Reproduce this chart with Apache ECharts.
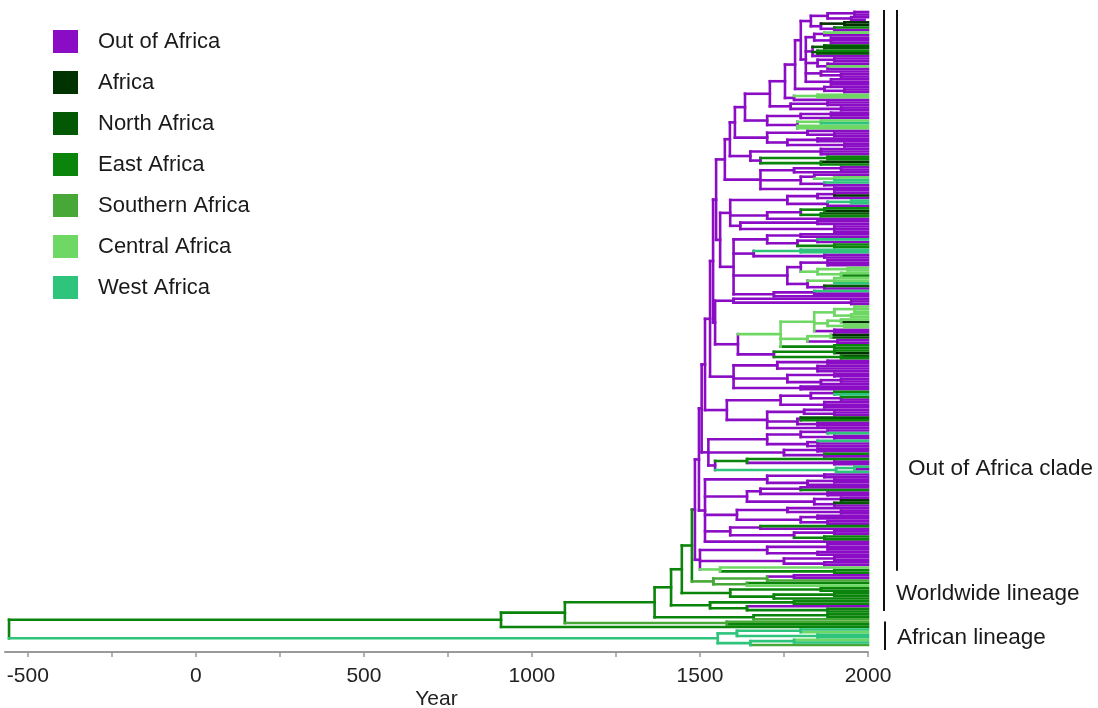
<!DOCTYPE html>
<html>
<head>
<meta charset="utf-8">
<script src="https://cdn.jsdelivr.net/npm/echarts@6/dist/echarts.min.js"></script>
<style>
html, body { margin: 0; padding: 0; background: #fff; }
#main { width: 1098px; height: 708px; }
</style>
</head>
<body>
<div id="main"></div>
<script>
// regions (legend order) and their colours
const regionNames = ['Out of Africa', 'Africa', 'North Africa', 'East Africa', 'Southern Africa', 'Central Africa', 'West Africa'];
const regionCodes = ['O', 'A', 'N', 'E', 'S', 'C', 'W'];
const regionColors = ['#8a0cc4', '#013300', '#035903', '#0a840a', '#47a838', '#6fd764', '#2ec47c'];

// x axis
const tickYears = [-500, -250, 0, 250, 500, 750, 1000, 1250, 1500, 1750, 2000];
const labelYears = [-500, 0, 500, 1000, 1500, 2000];
const rootYear = -556;

// tree: "(children)RegionYear", a tip is "Region[Year]" (year 2000 if left out)
const ooaTop = '((((O,O)O1960,(O,O1990)O1950)O1880,((A,A)A1930,(E,O)O1900)O1860)O1830,(((C,O)O1870,(O,O,O)O1890)O1840,((N,N)N1870,(E,N)N1850,O)O1835,((O,O)O1900,(O,C,O)O1880)O1850,(O,(O,O)O1920)O1860,(O,O,O)O1890)O1815)O1800';

// out of Africa backbone, top to bottom: node year + clade hanging under it
const ooaSpineYears = [1783, 1753, 1708, 1634, 1604, 1589, 1574, 1548, 1539, 1530, 1515, 1505, 1497, 1485];
const ooaSpineClades = [
    '(O,(O,O)O1930)O1870',
    '((C,C)C1850,O)O1780',
    '((O,O)O1880,(O,O)O1920)O1770',
    '(((O,O)O1890,O)O1800,((C,W)C1860,C,C)O1790)O1700',
    '((O,(O,O)O1900)O1820,((O,O)O1850,(O,O)O1930)O1760)O1700',
    '((O,O,O)O1860,((E,E)E1880,(A,E)E1860)O1680)O1650',
    '(((O,O)O1920,O)O1780,((O,(C,W)C1900)O1840,(W,O)O1870)O1800,(O,O)O1900)O1680',
    '(((((O,A)O1900,O)O1850,((W,W)W1950,O)O1880)O1760,(((E,A)E1870,(N,E)E1860)O1800,O)O1700,((O,O)O1850,(O,O,O)O1900)O1620)O1590,(((O,O)O1800,((W,O)O1850,(E,E)E1900)O1790)O1700,((W,W)W1800,(O,O)O1870)O1660,(((O,O,O)O1880,((C,C)C1940,(C,E)C1920)C1850)O1800,((C,C,W)C1900,(N,O)O1870)O1820)O1760,((W,O)O1840,O)O1720)O1600)O1560',
    '((O,(O,O)O1950)O1600,(((((C,C,C)C1960,(C,C)C1950)C1900,((C,A)C1920,(C,C)C1930)C1880,(O,O)O1900)C1840,((A,N)C1890,(O,O)O1910)C1820,(E,E)E1900)C1740,((E,A)E1900,(N,E)E1920)O1720)O1613)O1545',
    '(((O,O)O1880,(O,O,O)O1850)O1730,((O,O)O1900,((O,O)O1920,O)O1860)O1760,(O,O)O1800)O1600',
    '((((E,W)O1900,(E,O)O1920)O1830,(O,O,O)O1870)O1740,((O,(O,O)O1900)O1810,((N,E)O1800,(O,O)O1850)O1790,O)O1700)O1580',
    '((((O,W)O1880,(O,O)O1900)O1800,((W,O)O1850,O)O1820)O1700,((O,O)O1850,(E,O)O1870)O1750,((E,(O,O)O1900)E1640,((W,O)W1960,W)W1905)O1545)O1525',
    '(((O,O)O1870,((O,O)O1900,O)O1820)O1700,(((O,E)O1800,(O,O)O1880)O1680,((O,A)O1920,(N,O)O1900)O1840)O1640,((O,(O,O)O1920)O1760,((O,O)O1850,(O,O)O1880)O1800)O1610,((E,O)O1680,((O,O)O1900,(E,E)E1870)O1780)O1590,O)O1515',
    '(((O,O,O)O1880,(O,O)O1850)O1700,((O,O)O1900,(O,O)O1870)O1750,(C,(E,E)E1900)C1560)O1500'
];

// worldwide lineage backbone below the out of Africa clade
const wwSpineYears = [1476, 1446, 1414, 1365, 1098, 908];
const wwSpineClades = [
    '(((O,O)O1780,S)S1700,(E,C)S1640)S1540',
    '((E,E)E1860,((E,E)E1900,E)E1720)E1590',
    '((E,E)E1780,(O,(E,E)E1880)E1640)E1530',
    '((E,E)E1880,S)E1660',
    '(S,E)S1580',
    'E'
];

const africanLineage = '(((W,C)W1800,(W,W)W1850)W1610,((C,W)W1780,S)W1650)W1553';

function ladder(start, years, clades, code) {
    let s = start;
    years.forEach((y, i) => {
        s = '(' + s + ',' + clades[i] + ')' + code + y;
    });
    return s;
}

function parseTree(str) {
    let i = 0;
    function node() {
        const n = { children: [] };
        if (str[i] === '(') {
            i++;
            n.children.push(node());
            while (str[i] === ',') {
                i++;
                n.children.push(node());
            }
            i++; // ')'
        }
        n.region = str[i++];
        const m = /^-?\d+/.exec(str.slice(i));
        if (m) {
            n.year = +m[0];
            i += m[0].length;
        } else {
            n.year = 2000;
        }
        return n;
    }
    return node();
}

function countLeaves(n) {
    if (!n.children.length) return 1;
    return n.children.reduce((s, c) => s + countLeaves(c), 0);
}

const ooaStr = ladder(ooaTop, ooaSpineYears, ooaSpineClades, 'O');
const wwStr = ladder(ooaStr, wwSpineYears, wwSpineClades, 'E');
const tree = parseTree('(' + wwStr + ',' + africanLineage + ')E' + rootYear);

const ooaLeaves = countLeaves(parseTree(ooaStr));
const wwLeaves = countLeaves(parseTree(wwStr));

// leaf order gives y, inner nodes sit halfway between first and last child
let leafCount = 0;
function place(n) {
    if (!n.children.length) {
        n.y = leafCount++;
        return;
    }
    n.children.forEach(place);
    n.y = (n.children[0].y + n.children[n.children.length - 1].y) / 2;
}
place(tree);

const segs = {};
regionCodes.forEach(c => { segs[c] = []; });
function collect(n, parent) {
    if (parent) segs[n.region].push([parent.year, n.y, n.year, n.y]);
    if (n.children.length) {
        segs[n.region].push([n.year, n.children[0].y, n.year, n.children[n.children.length - 1].y]);
        n.children.forEach(c => collect(c, n));
    }
}
collect(tree, null);

const chart = echarts.init(document.getElementById('main'));

const series = regionCodes.map((c, k) => ({
    type: 'custom',
    name: regionNames[k],
    coordinateSystem: 'cartesian2d',
    silent: true,
    itemStyle: { color: regionColors[k] },
    encode: { x: [0, 2], y: [1, 3] },
    data: segs[c],
    renderItem: (params, api) => {
        const a = api.coord([api.value(0), api.value(1)]);
        const b = api.coord([api.value(2), api.value(3)]);
        return {
            type: 'line',
            shape: { x1: a[0], y1: a[1], x2: b[0], y2: b[1] },
            style: { stroke: api.visual('color'), lineWidth: 2.6, lineCap: 'square' }
        };
    }
}));

chart.setOption({
    animation: false,
    backgroundColor: '#fff',
    textStyle: { fontFamily: 'Liberation Sans, Arial, sans-serif' },
    grid: { left: 5, right: 230, top: 12, bottom: 56, outerBoundsMode: 'none', containLabel: false },
    legend: {
        orient: 'vertical',
        left: 53,
        top: 30,
        padding: 0,
        itemWidth: 25,
        itemHeight: 23,
        itemGap: 18,
        icon: 'rect',
        selectedMode: false,
        textStyle: { fontSize: 22, color: '#1a1a1a', padding: [0, 0, 0, 15] },
        data: regionNames
    },
    xAxis: {
        type: 'value',
        position: 'bottom',
        min: -568,
        max: 2000,
        name: 'Year',
        nameLocation: 'middle',
        nameGap: 37,
        nameMoveOverlap: false,
        nameTextStyle: { fontSize: 21, color: '#222' },
        splitLine: { show: false },
        axisLine: { show: true, onZero: false, lineStyle: { color: '#999', width: 2 } },
        axisTick: { show: true, customValues: tickYears, length: 5, lineStyle: { color: '#999', width: 1.5 } },
        axisLabel: { customValues: labelYears, fontSize: 21, color: '#222', margin: 14, formatter: v => String(v) }
    },
    yAxis: {
        type: 'value',
        show: false,
        inverse: true,
        min: 0,
        max: leafCount - 1 + 2.7
    },
    series: series
});

// clade brackets on the right
function py(i) {
    return chart.convertToPixel({ gridIndex: 0 }, [2000, i])[1];
}
const xEnd = chart.convertToPixel({ gridIndex: 0 }, [2000, 0])[0];
const barStyle = { stroke: '#111', lineWidth: 2 };
const labelFont = { fontSize: 22.5, fontFamily: 'Liberation Sans, Arial, sans-serif', fill: '#1a1a1a', verticalAlign: 'middle' };

chart.setOption({
    graphic: [
        { type: 'line', shape: { x1: xEnd + 29, y1: py(0) - 2, x2: xEnd + 29, y2: py(ooaLeaves - 1) - 2 }, style: barStyle },
        { type: 'line', shape: { x1: xEnd + 16, y1: py(0) - 2, x2: xEnd + 16, y2: py(wwLeaves - 1) - 16 }, style: barStyle },
        { type: 'line', shape: { x1: xEnd + 17, y1: py(wwLeaves) - 8, x2: xEnd + 17, y2: py(leafCount - 1) + 5 }, style: barStyle },
        { type: 'text', style: Object.assign({ text: 'Out of Africa clade', x: xEnd + 40, y: py(ooaLeaves - 1) - 104 }, labelFont) },
        { type: 'text', style: Object.assign({ text: 'Worldwide lineage', x: xEnd + 28, y: py(wwLeaves - 1) - 33 }, labelFont) },
        { type: 'text', style: Object.assign({ text: 'African lineage', x: xEnd + 29, y: py(wwLeaves) + 8 }, labelFont) }
    ]
});
</script>
</body>
</html>
